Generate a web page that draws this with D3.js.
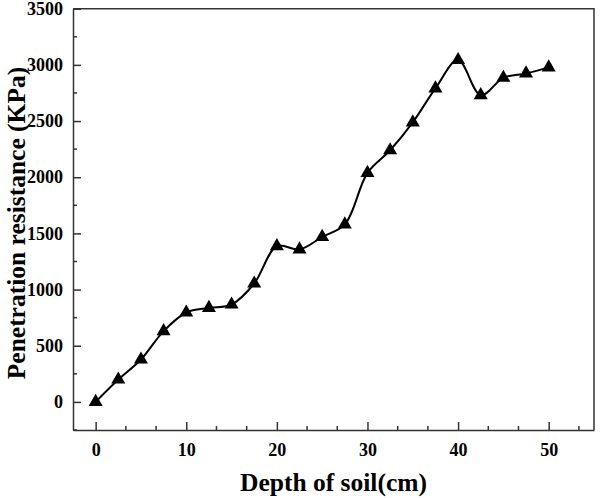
<!DOCTYPE html>
<html>
<head>
<meta charset="utf-8">
<script src="https://cdn.jsdelivr.net/npm/d3@7"></script>
<style>
    body { margin: 0; background: #fff; }
    svg text { font-family: "Liberation Serif", "Times New Roman", serif; font-weight: bold; fill: #000; }
</style>
</head>
<body>
<svg id="chart" width="600" height="498"></svg>
<script>
// Depth of soil (cm) and penetration resistance (KPa).
var depths = [0, 2.5, 5, 7.5, 10, 12.5, 15, 17.5, 20, 22.5, 25, 27.5, 30, 32.5, 35, 37.5, 40, 42.5, 45, 47.5, 50];
var resistance = [0, 199, 377, 630, 796, 837, 867, 1054, 1386, 1357, 1469, 1580, 2039, 2240, 2488, 2791, 3043, 2731, 2885, 2924, 2978];
var xTicks = [0, 10, 20, 30, 40, 50];
var yTicks = [0, 500, 1000, 1500, 2000, 2500, 3000, 3500];

function drawChart() {
    var svg = d3.select("#chart");
    var plotLeft = 73, plotRight = 594, plotTop = 8.7, plotBottom = 430;
    var axisColor = "#333";

    var x = d3.scaleLinear().domain([-2.5, 55]).range([plotLeft, plotRight]);
    var y = d3.scaleLinear().domain([-250, 3500]).range([plotBottom, plotTop]);

    // Minor ticks sit between the majors: thirds on x, halves on y.
    var xMinor = d3.range(-2, 17).map(function (i) { return i * 10 / 3; })
        .filter(function (v) { return v > -2.5 && v < 55 && Math.abs(v / 10 - Math.round(v / 10)) > 1e-6; });
    var yMinor = d3.range(-250, 3500, 500);

    // Bottom axis, ticks point inward.
    var xAxis = svg.append("g")
        .attr("transform", "translate(0," + plotBottom + ")")
        .call(d3.axisBottom(x).tickValues(xTicks).tickSizeInner(-8).tickSizeOuter(0).tickPadding(13));
    xAxis.attr("font-size", 18).attr("font-family", null);
    xAxis.append("g").selectAll("line")
        .data(xMinor)
        .enter()
        .append("line")
        .attr("x1", function (d) { return x(d); })
        .attr("x2", function (d) { return x(d); })
        .attr("y1", 0)
        .attr("y2", -4);

    // Left axis.
    var yAxis = svg.append("g")
        .attr("transform", "translate(" + plotLeft + ",0)")
        .call(d3.axisLeft(y).tickValues(yTicks).tickFormat(d3.format("d")).tickSizeInner(-8).tickSizeOuter(0).tickPadding(10));
    yAxis.attr("font-size", 18).attr("font-family", null);
    yAxis.append("g").selectAll("line")
        .data(yMinor)
        .enter()
        .append("line")
        .attr("y1", function (d) { return y(d); })
        .attr("y2", function (d) { return y(d); })
        .attr("x1", 0)
        .attr("x2", 4);

    svg.selectAll(".domain").attr("stroke", axisColor).attr("stroke-width", 1.5);
    svg.selectAll("g line").attr("stroke", axisColor).attr("stroke-width", 1.5);

    // Frame on top and right.
    svg.append("path")
        .attr("d", "M" + plotLeft + "," + plotTop + "H" + plotRight + "V" + plotBottom)
        .attr("fill", "none")
        .attr("stroke", axisColor)
        .attr("stroke-width", 1.5);

    // Smooth curve through the points.
    var points = depths.map(function (d, i) { return [d, resistance[i]]; });
    var line = d3.line()
        .x(function (d) { return x(d[0]); })
        .y(function (d) { return y(d[1]); })
        .curve(d3.curveCatmullRom.alpha(0.5));

    svg.append("path")
        .datum(points)
        .attr("d", line)
        .attr("fill", "none")
        .attr("stroke", "#000")
        .attr("stroke-width", 2);

    svg.append("g").selectAll("path")
        .data(points)
        .enter()
        .append("path")
        .attr("d", d3.symbol().type(d3.symbolTriangle).size(85))
        .attr("transform", function (d) { return "translate(" + x(d[0]) + "," + y(d[1]) + ")"; })
        .attr("fill", "#000");

    // Axis titles.
    svg.append("text")
        .attr("x", (plotLeft + plotRight) / 2)
        .attr("y", 491)
        .attr("text-anchor", "middle")
        .style("font-size", "25.5px")
        .text("Depth of soil(cm)");

    svg.append("text")
        .attr("transform", "translate(25,223) rotate(-90)")
        .attr("text-anchor", "middle")
        .style("font-size", "25.5px")
        .text("Penetration resistance (KPa)");
}

drawChart();
</script>
</body>
</html>
